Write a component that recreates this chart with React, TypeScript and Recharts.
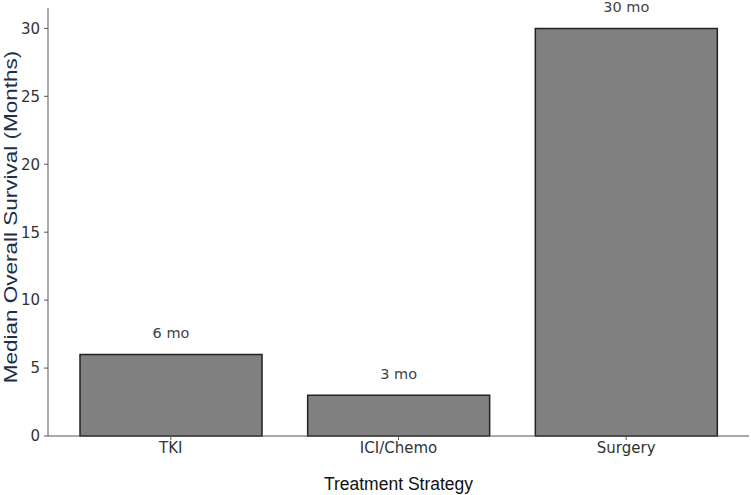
import { BarChart, Bar, XAxis, YAxis, LabelList, Label } from 'recharts';

const strategies = ['TKI', 'ICI/Chemo', 'Surgery'];
const medianOS = [6, 3, 30];
const valueLabels = ['6 mo', '3 mo', '30 mo'];
const yTicks = [0, 5, 10, 15, 20, 25, 30];
const yTitle = 'Median Overall Survival (Months)';

const data = strategies.map((name, i) => ({ name, value: medianOS[i], label: valueLabels[i] }));

const tickFont = { fontFamily: 'DejaVu Sans', fontSize: 15, fill: '#333' };

// the source image is stretched along the y title, so scale it along its length
const YTitle = (props: any) => {
  const vb = props.viewBox || { x: 8, y: 8, width: 40, height: 428 };
  const cx = vb.x + 3;
  const cy = vb.y + vb.height / 2 - 5;
  return (
    <text
      transform={`translate(${cx},${cy}) rotate(-90) scale(1.25,1)`}
      textAnchor="middle"
      dominantBaseline="central"
      style={{ fontFamily: 'Liberation Sans', fontSize: 18, fill: '#1c2e4a' }}
    >
      {yTitle}
    </text>
  );
};

export default function App() {
  return (
    <div style={{ position: 'absolute', left: 0, top: 0, background: '#fff' }}>
      <BarChart width={751} height={495} data={data} margin={{ top: 8, right: 2, bottom: 29, left: 8 }}>
        <XAxis
          dataKey="name"
          height={30}
          stroke="#555"
          tick={tickFont}
          tickSize={4}
          padding={{ left: 9, right: 9 }}
          tickMargin={2}
        >
          <Label
            value="Treatment Strategy"
            position="bottom"
            offset={12}
            style={{ fontFamily: 'Liberation Sans', fontSize: 17.5, fill: '#111' }}
          />
        </XAxis>
        <YAxis
          width={40}
          domain={[0, 31.5]}
          ticks={yTicks}
          stroke="#555"
          tick={tickFont}
          tickSize={4}
          tickMargin={4}
          interval={0}
        >
          <Label content={YTitle} />
        </YAxis>
        <Bar dataKey="value" barSize={182} fill="#808080" stroke="#222" strokeWidth={1.5} isAnimationActive={false}>
          <LabelList
            dataKey="label"
            position="top"
            offset={16}
            style={{ fontFamily: 'DejaVu Sans', fontSize: 14.5, fill: '#444' }}
          />
        </Bar>
      </BarChart>
    </div>
  );
}
